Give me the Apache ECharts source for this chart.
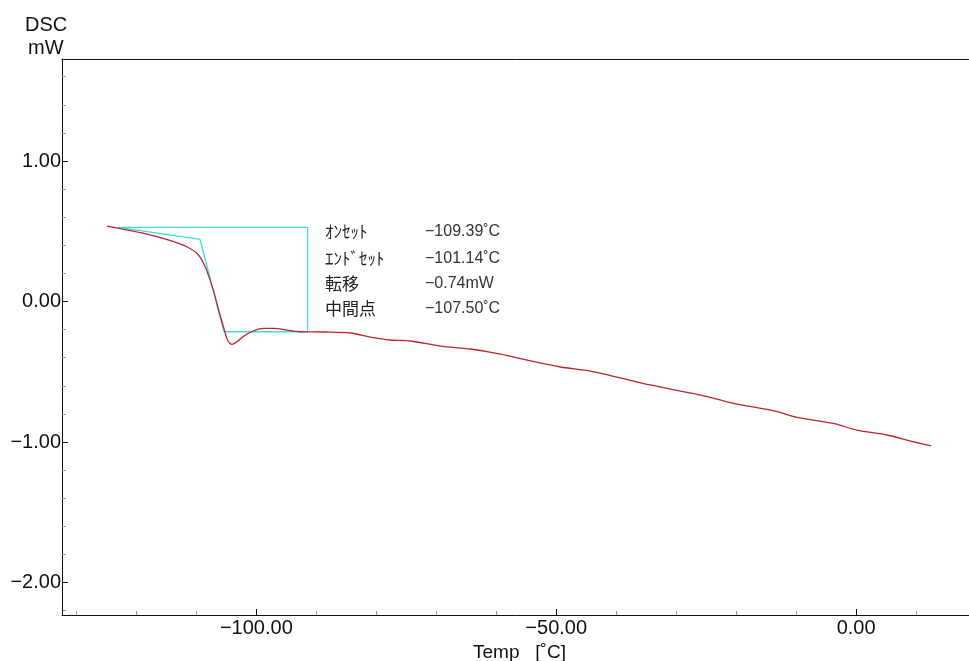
<!DOCTYPE html>
<html>
<head>
<meta charset="utf-8">
<script src="https://cdn.jsdelivr.net/npm/echarts@6/dist/echarts.min.js"></script>
<style>
html,body{margin:0;padding:0;background:#fff;}
#chart{width:969px;height:661px;}
</style>
</head>
<body>
<div id="chart"></div>
<script>
// DSC signal (red)
const tempC = [-124.9, -122.1, -119.3, -116.6, -113.8, -111.6, -109.9, -108.8, -107.9, -107.1, -106.3, -105.4, -104.8, -104.05, -103.2, -102.1, -100.4, -98.8, -97.1, -94.9, -92.7, -88.8, -84.3, -81.0, -77.7, -74.3, -69.3, -64.3, -59.3, -54.3, -49.3, -44.3, -39.3, -34.3, -29.3, -26.0, -20.45, -13.8, -9.9, -3.8, 0.1, 5.1, 9.55, 12.5];
const dscMW = [0.537, 0.514, 0.490, 0.461, 0.426, 0.390, 0.343, 0.272, 0.177, 0.070, -0.060, -0.191, -0.274, -0.305, -0.286, -0.246, -0.208, -0.191, -0.191, -0.203, -0.215, -0.217, -0.224, -0.253, -0.274, -0.281, -0.317, -0.338, -0.374, -0.423, -0.466, -0.495, -0.544, -0.594, -0.637, -0.665, -0.725, -0.777, -0.824, -0.867, -0.915, -0.950, -0.998, -1.028];

// analysis construction lines (cyan)
const boxT = [-123.0, -91.45, -91.45];
const boxV = [0.528, 0.528, -0.215];
const preBaseT = [-123.0, -109.39];
const preBaseV = [0.528, 0.443];
const tangentT = [-109.39, -105.4];
const tangentV = [0.443, -0.215];
const postBaseT = [-105.4, -91.45];
const postBaseV = [-0.215, -0.215];

// result annotation
const resultNames = ['ｵﾝｾｯﾄ', 'ｴﾝﾄﾞｾｯﾄ', '転移', '中間点'];
const resultValues = ['−109.39˚C', '−101.14˚C', '−0.74mW', '−107.50˚C'];

// axis tick labels
const xTickLabels = {'-100': '−100.00', '-50': '−50.00', '0': '0.00'};
const yTickLabels = {'1': '1.00', '0': '0.00', '-1': '−1.00', '-2': '−2.00'};

const X_MIN = -132.4, X_MAX = 20.15, Y_MIN = -2.231, Y_MAX = 1.726;

const zip = (a, b) => a.map((v, i) => [v, b[i]]);
const cyan = '#3fdbe1';

const chart = echarts.init(document.getElementById('chart'));

const graphics = [
  {type: 'text', left: 25, top: 15, style: {text: 'DSC', font: '20px "Liberation Sans", Arial, sans-serif', fill: '#111'}},
  {type: 'text', left: 28, top: 38, style: {text: 'mW', font: '20px "Liberation Sans", Arial, sans-serif', fill: '#111'}}
];
const rowY = [232, 259, 284, 309];
resultNames.forEach((n, i) => {
  graphics.push({type: 'text', x: 325, y: rowY[i], style: {text: n, font: '17px "Noto Sans CJK JP", sans-serif', fill: '#222', verticalAlign: 'middle'}});
  graphics.push({type: 'text', x: 425, y: rowY[i], style: {text: resultValues[i], font: '16px "Liberation Sans", Arial, sans-serif', fill: '#333', verticalAlign: 'middle'}});
});

const lineSeries = (data, color, w) => ({
  type: 'line', data: data, showSymbol: false, symbol: 'none', silent: true,
  lineStyle: {color: color, width: w}, animation: false, z: color === cyan ? 2 : 3
});

const labelFmt = map => v => {
  const r = Math.round(v);
  return Math.abs(v - r) < 1e-6 && map[String(r)] ? map[String(r)] : '';
};

chart.setOption({
  animation: false,
  backgroundColor: '#fff',
  grid: {left: 62, top: 59, right: -8, bottom: 46, show: false, containLabel: false, outerBoundsMode: 'none'},
  xAxis: [{
    type: 'value', min: X_MIN, max: X_MAX, splitNumber: 3,
    name: 'Temp   [˚C]', nameLocation: 'middle', nameGap: 17,
    nameTextStyle: {fontSize: 19, color: '#111', fontFamily: '"Liberation Sans", Arial, sans-serif'},
    axisLine: {show: true, onZero: false, lineStyle: {color: '#111', width: 1}},
    axisTick: {show: true, inside: true, length: 6, lineStyle: {color: '#111'}},
    minorTick: {show: true, splitNumber: 5, length: 4, lineStyle: {color: '#999'}},
    splitLine: {show: false},
    axisLabel: {margin: 3, fontSize: 20, color: '#111', fontFamily: '"Liberation Sans", Arial, sans-serif', formatter: labelFmt(xTickLabels)}
  }, {
    type: 'value', position: 'top', min: X_MIN, max: X_MAX,
    axisLine: {show: true, onZero: false, lineStyle: {color: '#111', width: 1}},
    axisTick: {show: false}, axisLabel: {show: false}, splitLine: {show: false}
  }],
  yAxis: {
    type: 'value', min: Y_MIN, max: Y_MAX, splitNumber: 4,
    axisLine: {show: true, onZero: false, lineStyle: {color: '#111', width: 1}},
    axisTick: {show: true, inside: true, length: 6, lineStyle: {color: '#111'}},
    minorTick: {show: true, splitNumber: 5, length: 4, lineStyle: {color: '#999'}},
    splitLine: {show: false},
    axisLabel: {margin: 1, fontSize: 20, color: '#111', fontFamily: '"Liberation Sans", Arial, sans-serif', formatter: labelFmt(yTickLabels)}
  },
  graphic: graphics,
  series: [
    lineSeries(zip(boxT, boxV), cyan, 1.3),
    lineSeries(zip(preBaseT, preBaseV), cyan, 1.3),
    lineSeries(zip(tangentT, tangentV), cyan, 1.3),
    lineSeries(zip(postBaseT, postBaseV), cyan, 1.3),
    Object.assign(lineSeries(zip(tempC, dscMW), '#bb262c', 1.3), {smooth: 0.3})
  ]
});
</script>
</body>
</html>
